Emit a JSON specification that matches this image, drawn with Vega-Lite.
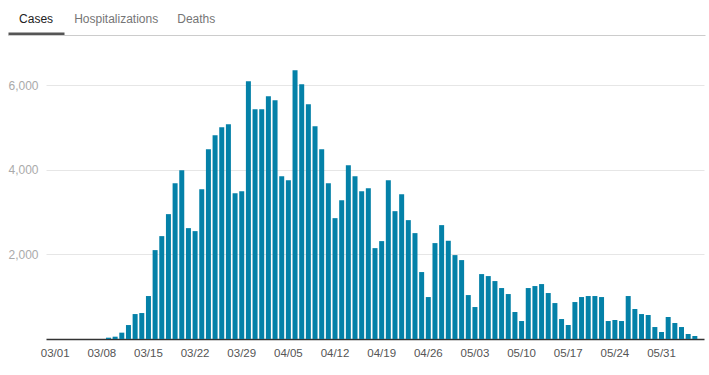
{
  "$schema": "https://vega.github.io/schema/vega-lite/v6.json",
  "padding": {"left": 7, "top": 0, "right": 0, "bottom": 0},
  "columns": 1,
  "align": "none",
  "bounds": "full",
  "spacing": -20,
  "config": {"view": {"stroke": null}, "font": "Liberation Sans"},
  "concat": [
    {
      "width": 659,
      "height": 35,
      "data": {"values": [{"tab": "Cases"}, {"tab": "Hospitalizations"}, {"tab": "Deaths"}]},
      "mark": {"type": "text", "fontSize": 12, "baseline": "middle", "dy": 1},
      "encoding": {
        "x": {
          "field": "tab",
          "type": "nominal",
          "sort": null,
          "scale": {"type": "band", "domain": ["Cases", "Hospitalizations", "Deaths", "_4", "_5", "_6", "_7", "_8"], "range": [-38, 659], "paddingInner": 0.3, "paddingOuter": 0.5, "align": 0},
          "axis": {
            "orient": "bottom",
            "values": ["Cases", "Hospitalizations", "Deaths"],
            "title": null,
            "labels": false,
            "domainColor": "#cccccc",
            "domainWidth": 1,
            "tickSize": -3,
            "tickWidth": 56,
            "tickCap": "butt",
            "tickColor": {"condition": {"test": "datum.value === 'Cases'", "value": "#555555"}, "value": "transparent"}
          }
        },
        "text": {"field": "tab"},
        "color": {"condition": {"test": "datum.tab === 'Cases'", "value": "#222222"}, "value": "#757575"}
      }
    },
    {
      "width": 658,
      "height": 296,
      "data": {"values": [
        {"date": "03/01", "cases": 0}, {"date": "03/02", "cases": 0}, {"date": "03/03", "cases": 0}, {"date": "03/04", "cases": 0},
        {"date": "03/05", "cases": 0}, {"date": "03/06", "cases": 0}, {"date": "03/07", "cases": 0}, {"date": "03/08", "cases": 0},
        {"date": "03/09", "cases": 31}, {"date": "03/10", "cases": 55}, {"date": "03/11", "cases": 150}, {"date": "03/12", "cases": 330},
        {"date": "03/13", "cases": 590}, {"date": "03/14", "cases": 614}, {"date": "03/15", "cases": 1016}, {"date": "03/16", "cases": 2102},
        {"date": "03/17", "cases": 2433}, {"date": "03/18", "cases": 2953}, {"date": "03/19", "cases": 3685}, {"date": "03/20", "cases": 3992},
        {"date": "03/21", "cases": 2622}, {"date": "03/22", "cases": 2551}, {"date": "03/23", "cases": 3543}, {"date": "03/24", "cases": 4488},
        {"date": "03/25", "cases": 4818}, {"date": "03/26", "cases": 5007}, {"date": "03/27", "cases": 5078}, {"date": "03/28", "cases": 3449},
        {"date": "03/29", "cases": 3496}, {"date": "03/30", "cases": 6094}, {"date": "03/31", "cases": 5433},
        {"date": "04/01", "cases": 5433}, {"date": "04/02", "cases": 5740}, {"date": "04/03", "cases": 5645}, {"date": "04/04", "cases": 3850},
        {"date": "04/05", "cases": 3756}, {"date": "04/06", "cases": 6354}, {"date": "04/07", "cases": 6023}, {"date": "04/08", "cases": 5551},
        {"date": "04/09", "cases": 5031}, {"date": "04/10", "cases": 4488}, {"date": "04/11", "cases": 3685}, {"date": "04/12", "cases": 2858},
        {"date": "04/13", "cases": 3283}, {"date": "04/14", "cases": 4110}, {"date": "04/15", "cases": 3850}, {"date": "04/16", "cases": 3496},
        {"date": "04/17", "cases": 3567}, {"date": "04/18", "cases": 2149}, {"date": "04/19", "cases": 2315}, {"date": "04/20", "cases": 3756},
        {"date": "04/21", "cases": 3023}, {"date": "04/22", "cases": 3425}, {"date": "04/23", "cases": 2811}, {"date": "04/24", "cases": 2504},
        {"date": "04/25", "cases": 1583}, {"date": "04/26", "cases": 992}, {"date": "04/27", "cases": 2268}, {"date": "04/28", "cases": 2693},
        {"date": "04/29", "cases": 2323}, {"date": "04/30", "cases": 1984},
        {"date": "05/01", "cases": 1866}, {"date": "05/02", "cases": 1039}, {"date": "05/03", "cases": 756}, {"date": "05/04", "cases": 1535},
        {"date": "05/05", "cases": 1488}, {"date": "05/06", "cases": 1370}, {"date": "05/07", "cases": 1205}, {"date": "05/08", "cases": 1063},
        {"date": "05/09", "cases": 638}, {"date": "05/10", "cases": 425}, {"date": "05/11", "cases": 1205}, {"date": "05/12", "cases": 1252},
        {"date": "05/13", "cases": 1299}, {"date": "05/14", "cases": 1087}, {"date": "05/15", "cases": 850}, {"date": "05/16", "cases": 472},
        {"date": "05/17", "cases": 331}, {"date": "05/18", "cases": 874}, {"date": "05/19", "cases": 992}, {"date": "05/20", "cases": 1016},
        {"date": "05/21", "cases": 1016}, {"date": "05/22", "cases": 992}, {"date": "05/23", "cases": 425}, {"date": "05/24", "cases": 449},
        {"date": "05/25", "cases": 425}, {"date": "05/26", "cases": 1016}, {"date": "05/27", "cases": 709}, {"date": "05/28", "cases": 590},
        {"date": "05/29", "cases": 567}, {"date": "05/30", "cases": 283}, {"date": "05/31", "cases": 165},
        {"date": "06/01", "cases": 520}, {"date": "06/02", "cases": 378}, {"date": "06/03", "cases": 283}, {"date": "06/04", "cases": 118},
        {"date": "06/05", "cases": 71}
      ]},
      "mark": {"type": "bar", "color": "#0481a8"},
      "encoding": {
        "x": {
          "field": "date",
          "type": "ordinal",
          "sort": null,
          "scale": {"paddingInner": 0.25, "paddingOuter": 1},
          "axis": {
            "title": null,
            "values": ["03/01", "03/08", "03/15", "03/22", "03/29", "04/05", "04/12", "04/19", "04/26", "05/03", "05/10", "05/17", "05/24", "05/31"],
            "labelAngle": 0,
            "ticks": false,
            "domainColor": "#333333",
            "domainWidth": 1.5,
            "labelColor": "#555555",
            "labelFontSize": 11.5,
            "labelPadding": 8
          }
        },
        "y": {
          "field": "cases",
          "type": "quantitative",
          "scale": {"domain": [0, 7000], "nice": false},
          "axis": {
            "title": null,
            "values": [2000, 4000, 6000],
            "format": ",.0f",
            "domain": false,
            "ticks": false,
            "gridColor": "#e6e6e6",
            "labelColor": "#aaaaaa",
            "labelFontSize": 12,
            "labelPadding": 8
          }
        }
      }
    }
  ]
}
